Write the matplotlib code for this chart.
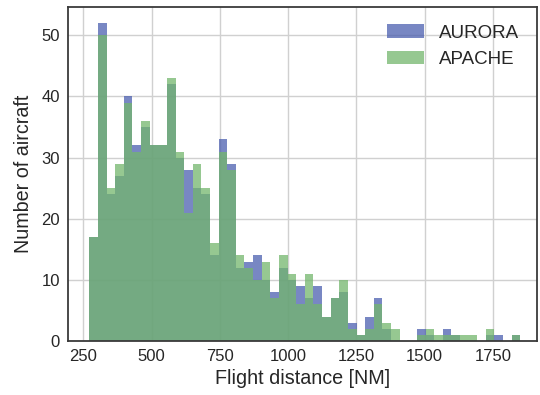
import numpy as np
import matplotlib
matplotlib.use("Agg")
import matplotlib.pyplot as plt

# Histogram counts per distance bin (50 equal bins)
bin_low = 272
bin_high = 1851
aurora_counts = [17, 52, 24, 27, 40, 32, 35, 32, 32, 42,
                 30, 28, 25, 24, 14, 33, 29, 12, 13, 14,
                 10, 8, 12, 10, 9, 7, 9, 4, 7, 8,
                 3, 1, 4, 7, 2, 0, 0, 0, 2, 1,
                 0, 2, 1, 0, 0, 0, 1, 1, 0, 1]
apache_counts = [17, 50, 25, 29, 39, 31, 36, 32, 32, 43,
                 31, 21, 29, 25, 16, 31, 28, 14, 12, 10,
                 13, 7, 14, 11, 6, 11, 6, 4, 7, 10,
                 2, 1, 2, 6, 3, 2, 0, 0, 1, 2,
                 1, 1, 1, 1, 1, 0, 2, 0, 0, 1]
series_names = ["AURORA", "APACHE"]
x_ticks = [250, 500, 750, 1000, 1250, 1500, 1750]
y_ticks = [0, 10, 20, 30, 40, 50]

plt.rcParams["font.family"] = ["Liberation Sans", "DejaVu Sans"]
text_color = "#262626"

fig = plt.figure(figsize=(5.4, 3.95), dpi=100)
ax = fig.add_axes([0.1265, 0.1367, 0.8679, 0.8465])

edges = np.linspace(bin_low, bin_high, len(aurora_counts) + 1)
widths = np.diff(edges)
ax.bar(edges[:-1], aurora_counts, width=widths, align="edge",
       color="#4b5faf", alpha=0.75, linewidth=0, label=series_names[0], zorder=2)
ax.bar(edges[:-1], apache_counts, width=widths, align="edge",
       color="#73b66c", alpha=0.75, linewidth=0, label=series_names[1], zorder=2)

ax.set_xlim(195, 1912)
ax.set_ylim(0, 54.7)
ax.set_xticks(x_ticks)
ax.set_yticks(y_ticks)

ax.grid(True, color="#d0d0d0", linewidth=1.0, zorder=0)
ax.set_axisbelow(True)
for sp in ax.spines.values():
    sp.set_color("#3a3a3a")
    sp.set_linewidth(1.3)

ax.tick_params(axis="both", length=0, pad=6, labelsize=12, labelcolor=text_color)
ax.set_xlabel("Flight distance [NM]", fontsize=14.2, color=text_color, labelpad=3)
ax.set_ylabel("Number of aircraft", fontsize=14.2, color=text_color, labelpad=6)

ax.legend(loc="upper right", frameon=False, fontsize=13.5,
          handlelength=2.0, borderaxespad=0.55)
for t in ax.get_legend().get_texts():
    t.set_color(text_color)

fig.savefig("out.png", dpi=100)
